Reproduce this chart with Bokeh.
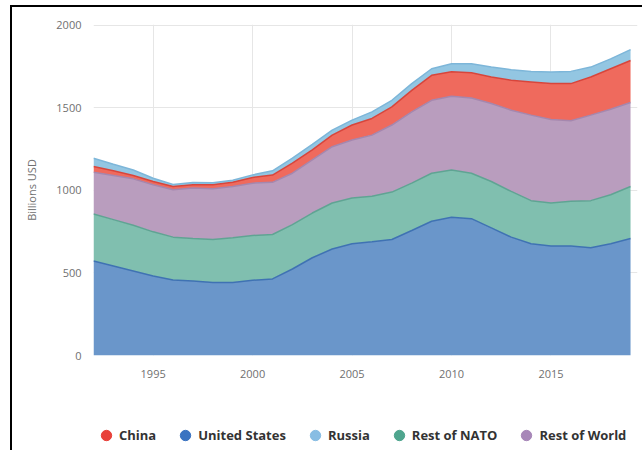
from bokeh.plotting import figure
from bokeh.layouts import column
from bokeh.models import ColumnDataSource, FixedTicker, Legend, LegendItem, Range1d
from bokeh.transform import stack
from bokeh.embed import file_html
from bokeh.resources import INLINE

years = list(range(1992, 2020))
united_states = [572, 542, 512, 482, 458, 452, 442, 442, 456, 464, 524, 592, 645, 677,
                 689, 703, 757, 813, 837, 829, 773, 717, 677, 663, 663, 653, 677, 709]
rest_of_nato = [285, 281, 277, 267, 259, 257, 261, 271, 271, 269, 269, 271, 279, 277,
                275, 287, 287, 291, 287, 275, 281, 277, 261, 261, 271, 285, 297, 315]
rest_of_world = [253, 267, 281, 285, 287, 305, 307, 311, 317, 316, 311, 322, 341, 351,
                 371, 406, 432, 442, 446, 456, 472, 492, 518, 506, 488, 518, 518, 508]
china = [35, 29, 20, 20, 20, 20, 24, 26, 34, 44, 61, 60, 70, 91,
         101, 110, 130, 151, 149, 153, 161, 181, 201, 217, 225, 231, 245, 255]
russia = [50, 39, 34, 20, 12, 14, 12, 12, 16, 26, 30, 34, 30, 30,
          40, 40, 41, 40, 48, 54, 60, 64, 64, 70, 74, 60, 60, 66]

x_ticks = [1995, 2000, 2005, 2010, 2015]
y_ticks = [0, 500, 1000, 1500, 2000]

series = ["us", "nato", "row", "china", "russia"]
fills = ["#6A96CA", "#80BFAF", "#B99DBE", "#EF6A5D", "#93C6E2"]
edges = ["#3F72B3", "#5FA493", "#A587AE", "#D8453B", "#7DB6D9"]
legend_colors = {"China": "#E8413A", "United States": "#3A73C1", "Russia": "#88BDE3",
                 "Rest of NATO": "#4FA58E", "Rest of World": "#A787B8"}
legend_order = ["China", "United States", "Russia", "Rest of NATO", "Rest of World"]

source = ColumnDataSource(dict(year=years, us=united_states, nato=rest_of_nato,
                               row=rest_of_world, china=china, russia=russia))

font = "Open Sans"

p = figure(output_backend="svg", toolbar_location=None,
           frame_width=544, frame_height=331,
           min_border_left=81, min_border_right=5, min_border_top=17, min_border_bottom=45,
           x_range=Range1d(1992, 2019.35), y_range=Range1d(0, 2005))
p.outline_line_color = None

p.varea_stack(stackers=series, x="year", color=fills, source=source)
for i, s in enumerate(series):
    p.line(x="year", y=stack(*series[:i + 1]), source=source,
           line_color=edges[i], line_width=1.5)

for ax in (p.xaxis[0], p.yaxis[0]):
    ax.axis_line_color = None
    ax.major_tick_line_color = None
    ax.minor_tick_line_color = None
    ax.major_label_text_font = font
    ax.major_label_text_font_size = "11px"
    ax.major_label_text_color = "#707070"
p.xaxis.ticker = FixedTicker(ticks=x_ticks)
p.yaxis.ticker = FixedTicker(ticks=y_ticks)
p.xaxis.major_label_standoff = 8
p.yaxis.major_label_standoff = 6
p.yaxis.axis_label = "Billions USD"
p.yaxis.axis_label_text_font = font
p.yaxis.axis_label_text_font_style = "normal"
p.yaxis.axis_label_text_font_size = "11px"
p.yaxis.axis_label_text_color = "#707070"
p.yaxis.axis_label_standoff = 14

p.xgrid.ticker = FixedTicker(ticks=x_ticks)
p.ygrid.ticker = FixedTicker(ticks=y_ticks)
p.grid.grid_line_color = "#E6E6E6"

# legend strip below the chart
lg = figure(output_backend="svg", toolbar_location=None, width=630, height=50,
            min_border=0, x_axis_type=None, y_axis_type=None,
            x_range=Range1d(0, 1), y_range=Range1d(0, 1))
lg.grid.visible = False
lg.outline_line_color = None

items = []
for name in legend_order:
    r = lg.scatter(x=[float("nan")], y=[float("nan")], marker="circle", size=15,
                   fill_color=legend_colors[name], line_color=legend_colors[name])
    items.append(LegendItem(label=name, renderers=[r]))

legend = Legend(items=items, orientation="horizontal", location=(0, 2),
                label_text_font=font, label_text_font_style="bold",
                label_text_font_size="13px", label_text_color="#333333",
                glyph_width=26, glyph_height=26, spacing=16, label_standoff=0,
                padding=0, margin=0,
                border_line_color=None, background_fill_alpha=0)
lg.add_layout(legend, "center")

layout = column(p, lg, spacing=0)
layout.styles = {"border-left": "2px solid black", "border-top": "2px solid black",
                 "margin-left": "10px", "margin-top": "5px"}

open("out.html", "w").write(file_html(layout, INLINE))
